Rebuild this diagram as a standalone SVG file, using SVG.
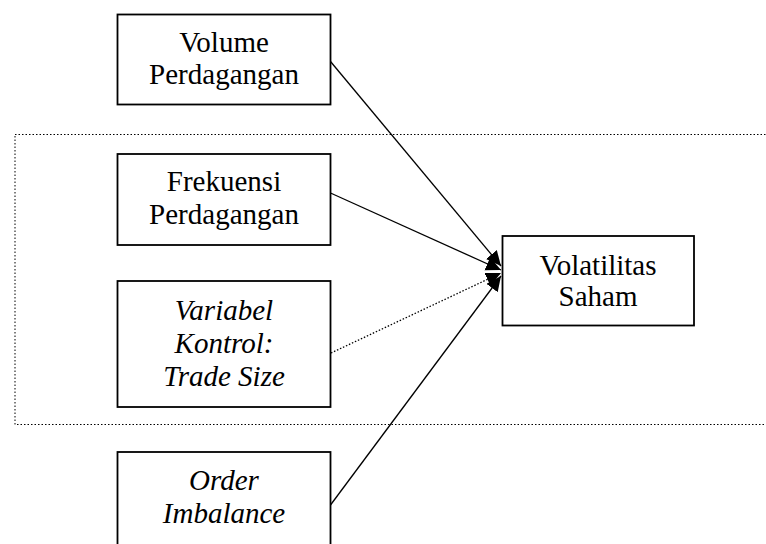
<svg xmlns="http://www.w3.org/2000/svg" width="766" height="544" viewBox="0 0 766 544">
<defs>
<style>
.box{fill:#fff;stroke:#000;stroke-width:1.8}
.t{font-family:"Liberation Serif","Times New Roman",serif;font-size:29px;fill:#000;text-anchor:middle}
.i{font-style:italic}
.c{stroke:#000;stroke-width:1.3;fill:none}
</style>
<marker id="ah" markerUnits="userSpaceOnUse" markerWidth="16" markerHeight="15" refX="15" refY="7" orient="auto">
<path d="M0,0 L15,7 L0,14 z" fill="#000"/>
</marker>
</defs>
<rect width="766" height="544" fill="#fff"/>
<rect id="group-frame" x="15" y="134.5" width="800" height="290" fill="none" stroke="#000" stroke-width="1" stroke-dasharray="1.5 2"/>
<g id="connectors">
<line class="c" x1="330.5" y1="61.5" x2="501" y2="266" marker-end="url(#ah)"/>
<line class="c" x1="330.5" y1="193" x2="501" y2="270" stroke-width="2" marker-end="url(#ah)"/>
<line class="c" x1="331" y1="353" x2="501" y2="273" stroke-dasharray="1.5 1.8" marker-end="url(#ah)"/>
<line class="c" x1="330.5" y1="505" x2="501" y2="276" marker-end="url(#ah)"/>
</g>
<g id="node-volume">
<rect class="box" x="117.5" y="14.5" width="213" height="90"/>
<text class="t" x="224" y="51.5">Volume</text>
<text class="t" x="224" y="84">Perdagangan</text>
</g>
<g id="node-frekuensi">
<rect class="box" x="117.5" y="154" width="213" height="91"/>
<text class="t" x="224" y="191">Frekuensi</text>
<text class="t" x="224" y="223.5">Perdagangan</text>
</g>
<g id="node-variabel">
<rect class="box" x="117.5" y="281" width="213" height="126"/>
<text class="t i" x="224" y="320">Variabel</text>
<text class="t i" x="224" y="352.5">Kontrol:</text>
<text class="t i" x="224" y="386">Trade Size</text>
</g>
<g id="node-order">
<rect class="box" x="117.5" y="452" width="213" height="110"/>
<text class="t i" x="224" y="490">Order</text>
<text class="t i" x="224" y="523">Imbalance</text>
</g>
<g id="node-volatilitas">
<rect class="box" x="502.5" y="236" width="191.5" height="89.5"/>
<text class="t" x="598" y="275">Volatilitas</text>
<text class="t" x="598" y="306">Saham</text>
</g>
</svg>
